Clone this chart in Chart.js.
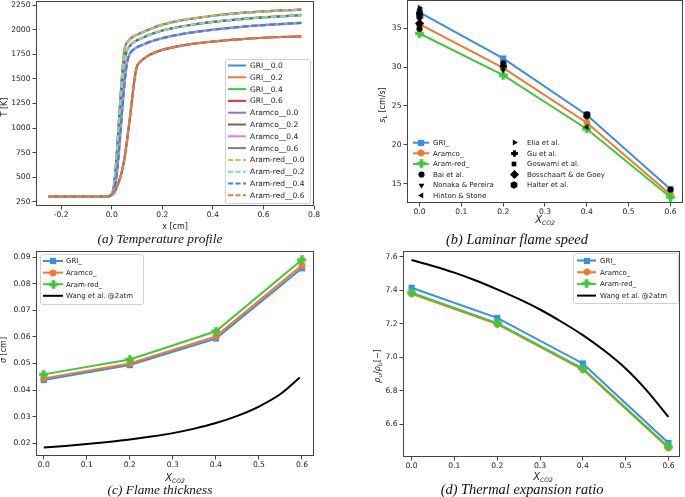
<!DOCTYPE html>
<html>
<head>
<meta charset="utf-8">
<script src="https://cdn.jsdelivr.net/npm/chart.js@4.4.1/dist/chart.umd.min.js"></script>
<style>
  body { margin: 0; background: #fff; }
  #page { position: relative; width: 685px; height: 497px; overflow: hidden; font-family: "DejaVu Sans", sans-serif; color: #222; }
  #page canvas { position: absolute; }
  .lab { position: absolute; white-space: nowrap; font-size: 8px; line-height: 1; transform: translate(-50%, -50%); }
  .lab.rot { transform: translate(-50%, -50%) rotate(-90deg); }
  .xc { font-style: italic; font-size: 10px; }
  .xc sub { font-size: 6.5px; vertical-align: -2px; }
  .lab sub { font-size: 6px; vertical-align: -2px; }
  .cap { position: absolute; white-space: nowrap; font-family: "Liberation Serif", serif; font-style: italic; font-size: 13.4px; line-height: 1; transform: translate(-50%, -50%); color: #111; }
  .cap.r { font-size: 14.4px; }
</style>
</head>
<body>
<div id="page">
  <canvas id="tprof" width="322" height="224" style="left:0;top:0"></canvas>
  <canvas id="speed" width="345" height="222" style="left:340px;top:0"></canvas>
  <canvas id="thick" width="322" height="230" style="left:0;top:245px"></canvas>
  <canvas id="expan" width="345" height="231" style="left:340px;top:245px"></canvas>

  <div class="lab rot" style="left:5px;top:107px">T [K]</div>
  <div class="lab" style="left:175px;top:227px">x [cm]</div>
  <div class="cap" style="left:160px;top:239px">(a) Temperature profile</div>

  <div class="lab rot" style="left:383px;top:105px"><i>s</i><sub>L</sub> [cm/s]</div>
  <div class="lab xc" style="left:545px;top:220px">X<sub>CO2</sub></div>
  <div class="cap r" style="left:517px;top:239px">(b) Laminar flame speed</div>

  <div class="lab rot" style="left:4px;top:350px"><i>σ</i> [cm]</div>
  <div class="lab xc" style="left:175px;top:478px">X<sub>CO2</sub></div>
  <div class="cap" style="left:160px;top:490px">(c) Flame thickness</div>

  <div class="lab rot" style="left:378px;top:366px"><i>ρ</i><sub>u</sub>/<i>ρ</i><sub>b</sub>[−]</div>
  <div class="lab xc" style="left:543px;top:477px">X<sub>CO2</sub></div>
  <div class="cap r" style="left:522px;top:489px">(d) Thermal expansion ratio</div>
</div>

<script>
// ---------- data ----------

var xCO2 = [0.0, 0.2, 0.4, 0.6];

// (a) temperature profile, x in cm
var xPos = [-0.25, -0.1, -0.02, 0.0, 0.01, 0.02, 0.03, 0.04, 0.05, 0.06, 0.07, 0.08, 0.09, 0.1, 0.11, 0.12, 0.15, 0.2, 0.25, 0.3, 0.4, 0.5, 0.6, 0.75];
var T_00 = [300, 300, 305, 330, 450, 760, 1150, 1520, 1800, 1868, 1900, 1922, 1938, 1950, 1962, 1973, 2005, 2052, 2083, 2106, 2142, 2168, 2186, 2205];
var T_02 = [300, 300, 304, 327, 410, 670, 1040, 1400, 1680, 1790, 1830, 1858, 1878, 1893, 1905, 1916, 1950, 1992, 2020, 2043, 2080, 2106, 2125, 2147];
var T_04 = [300, 300, 303, 324, 375, 540, 820, 1150, 1450, 1660, 1750, 1785, 1806, 1822, 1834, 1845, 1876, 1914, 1942, 1965, 2000, 2027, 2047, 2070];
var T_06 = [300, 300, 302, 318, 345, 400, 470, 560, 690, 870, 1070, 1290, 1500, 1630, 1668, 1692, 1745, 1795, 1825, 1848, 1880, 1902, 1918, 1933];
var tLabels = ['GRI__0.0', 'GRI__0.2', 'GRI__0.4', 'GRI__0.6',
               'Aramco__0.0', 'Aramco__0.2', 'Aramco__0.4', 'Aramco__0.6',
               'Aram-red__0.0', 'Aram-red__0.2', 'Aram-red__0.4', 'Aram-red__0.6'];
var tSeries = [T_00, T_02, T_04, T_06, T_00, T_02, T_04, T_06, T_00, T_02, T_04, T_06];
var tXTicks = [-0.2, 0.0, 0.2, 0.4, 0.6, 0.8];
var tYTicks = [250, 500, 750, 1000, 1250, 1500, 1750, 2000, 2250];

// (b) laminar flame speed [cm/s]
var sL_GRI = [37.0, 31.1, 23.85, 14.3];
var sL_Aramco = [35.5, 29.9, 22.85, 13.65];
var sL_AramRed = [34.3, 28.95, 22.05, 13.3];
var bai = [[0.0, 34.9], [0.2, 30.5], [0.4, 23.7], [0.6, 14.3]];
var nonaka = [[0.0, 36.1], [0.2, 29.6]];
var hinton = [[0.0, 35.3], [0.4, 22.3]];
var elia = [[0.0, 37.6]];
var gu = [[0.0, 36.9], [0.2, 30.1]];
var goswami = [[0.0, 37.3]];
var bosschaart = [[0.0, 35.6]];
var halter = [[0.0, 36.5], [0.4, 23.9]];
var sXTicks = [0.0, 0.1, 0.2, 0.3, 0.4, 0.5, 0.6];
var sYTicks = [15, 20, 25, 30, 35];

// (c) flame thickness [cm]
var d_GRI = [0.0438, 0.0494, 0.0594, 0.0858];
var d_Aramco = [0.0444, 0.0500, 0.0602, 0.0869];
var d_AramRed = [0.0459, 0.0515, 0.0621, 0.0890];
var wangX_d = [0.0, 0.05, 0.1, 0.15, 0.2, 0.25, 0.3, 0.35, 0.4, 0.45, 0.5, 0.55, 0.595];
var wang_d = [0.0184, 0.0190, 0.0197, 0.0205, 0.0214, 0.0225, 0.0238, 0.0255, 0.0276, 0.0303, 0.0338, 0.0385, 0.0447];
var dYTicks = [0.02, 0.03, 0.04, 0.05, 0.06, 0.07, 0.08, 0.09];

// (d) thermal expansion ratio
var e_GRI = [7.415, 7.235, 6.963, 6.489];
var e_Aramco = [7.379, 7.198, 6.927, 6.459];
var e_AramRed = [7.385, 7.204, 6.933, 6.465];
var wangX_e = [0.0, 0.05, 0.1, 0.15, 0.2, 0.25, 0.3, 0.35, 0.4, 0.45, 0.5, 0.55, 0.6];
var wang_e = [7.58, 7.545, 7.505, 7.458, 7.405, 7.348, 7.285, 7.212, 7.132, 7.040, 6.933, 6.800, 6.644];
var eYTicks = [6.6, 6.8, 7.0, 7.2, 7.4, 7.6];

// ---------- styling ----------

var cBlue = '#3b8ee2', cOrange = '#f5772d', cGreen = '#3fc83a', cRed = '#e4333b';
var tColors = [cBlue, cOrange, cGreen, cRed, '#9270e0', '#8c5a4c', '#e07ce0', '#7f7f7f', '#b8cc2a', '#62e4c6', '#3a86de', '#f27a32'];
var TICK_FONT = { family: 'DejaVu Sans', size: 7.6 };

// small marker images, used both by the datasets and by the legends
function marker(shape, color, n) {
  var c = document.createElement('canvas');
  c.width = n; c.height = n;
  var g = c.getContext('2d'), m = n / 2;
  g.fillStyle = color;
  g.beginPath();
  if (shape == 'square') {
    var s = n * 0.78;
    g.rect(m - s / 2, m - s / 2, s, s);
  } else if (shape == 'circle') {
    g.arc(m, m, n * 0.44, 0, Math.PI * 2);
  } else if (shape == 'hex') {
    for (var k = 0; k < 6; k++) {
      var a = Math.PI / 6 + k * Math.PI / 3;
      g.lineTo(m + Math.cos(a) * n * 0.48, m + Math.sin(a) * n * 0.48);
    }
  } else if (shape == 'plus') {
    var w = n * 0.2, L = n * 0.48;
    g.rect(m - w, m - L, 2 * w, 2 * L);
    g.rect(m - L, m - w, 2 * L, 2 * w);
  } else if (shape == 'diamond') {
    g.moveTo(m, 0); g.lineTo(n, m); g.lineTo(m, n); g.lineTo(0, m);
  } else {
    // triangles: down / left / right
    var r = n * 0.48, rot = { down: Math.PI / 2, left: Math.PI, right: 0 }[shape];
    for (var j = 0; j < 3; j++) {
      var b = rot + j * 2 * Math.PI / 3;
      g.lineTo(m + Math.cos(b) * r, m + Math.sin(b) * r);
    }
  }
  g.closePath();
  g.fill();
  return c;
}

var mk = {
  gri: marker('square', cBlue, 8), aramco: marker('hex', cOrange, 8), aramred: marker('plus', cGreen, 9),
  bai: marker('circle', '#000', 7), nonaka: marker('down', '#000', 7), hinton: marker('left', '#000', 7),
  elia: marker('right', '#000', 7), gu: marker('plus', '#000', 7), goswami: marker('square', '#000', 6),
  bosschaart: marker('diamond', '#000', 9), halter: marker('hex', '#000', 8)
};

// legends drawn inside the axes, page coordinates
var legends = {
  tprof: { box: [225, 59, 85, 144], font: 7.5, rows: tLabels.map(function (l, i) {
    return { x0: 228, x1: 246, tx: 250, y: 65.5 + i * 11.8, label: l, color: tColors[i], dash: i >= 8 };
  }) },
  speed: { box: null, font: 7, rows: [
    { x0: 413, x1: 429, tx: 433, y: 142.7, label: 'GRI_', color: cBlue, mk: 'gri' },
    { x0: 413, x1: 429, tx: 433, y: 153.3, label: 'Aramco_', color: cOrange, mk: 'aramco' },
    { x0: 413, x1: 429, tx: 433, y: 163.9, label: 'Aram-red_', color: cGreen, mk: 'aramred' },
    { mx: 421, tx: 433, y: 174.5, label: 'Bai et al.', mk: 'bai' },
    { mx: 421, tx: 433, y: 185.1, label: 'Nonaka & Pereira', mk: 'nonaka' },
    { mx: 421, tx: 433, y: 195.7, label: 'Hinton & Stone', mk: 'hinton' },
    { mx: 514, tx: 527, y: 142.7, label: 'Elia et al.', mk: 'elia' },
    { mx: 514, tx: 527, y: 153.3, label: 'Gu et al.', mk: 'gu' },
    { mx: 514, tx: 527, y: 163.9, label: 'Goswami et al.', mk: 'goswami' },
    { mx: 514, tx: 527, y: 174.5, label: 'Bosschaart & de Goey', mk: 'bosschaart' },
    { mx: 514, tx: 527, y: 185.1, label: 'Halter et al.', mk: 'halter' }
  ] },
  thick: { box: [40, 254, 103, 50], font: 7, rows: [
    { x0: 43, x1: 63, tx: 66, y: 261, label: 'GRI_', color: cBlue, mk: 'gri' },
    { x0: 43, x1: 63, tx: 66, y: 272.6, label: 'Aramco_', color: cOrange, mk: 'aramco' },
    { x0: 43, x1: 63, tx: 66, y: 284.2, label: 'Aram-red_', color: cGreen, mk: 'aramred' },
    { x0: 43, x1: 63, tx: 66, y: 295.8, label: 'Wang et al. @2atm', color: '#000' }
  ] },
  expan: { box: [573, 253, 105, 50], font: 7, rows: [
    { x0: 577, x1: 596, tx: 600, y: 260.5, label: 'GRI_', color: cBlue, mk: 'gri' },
    { x0: 577, x1: 596, tx: 600, y: 272.2, label: 'Aramco_', color: cOrange, mk: 'aramco' },
    { x0: 577, x1: 596, tx: 600, y: 283.9, label: 'Aram-red_', color: cGreen, mk: 'aramred' },
    { x0: 577, x1: 596, tx: 600, y: 295.6, label: 'Wang et al. @2atm', color: '#000' }
  ] }
};

// full box around the axes + legend inside
Chart.register({
  id: 'mplFrame',
  afterDatasetsDraw: function (chart) {
    var a = chart.chartArea, ctx = chart.ctx;
    ctx.save();
    ctx.strokeStyle = '#444';
    ctx.lineWidth = 1;
    ctx.strokeRect(Math.round(a.left) + 0.5, Math.round(a.top) + 0.5,
      Math.round(a.right - a.left) - 1, Math.round(a.bottom - a.top) - 1);
    ctx.restore();
  },
  afterDraw: function (chart) {
    var lg = legends[chart.canvas.id];
    if (!lg) return;
    var ctx = chart.ctx, ox = chart.canvas.offsetLeft, oy = chart.canvas.offsetTop;
    ctx.save();
    ctx.translate(-ox, -oy);
    if (lg.box) {
      var b = lg.box;
      ctx.beginPath();
      ctx.roundRect(b[0] + 0.5, b[1] + 0.5, b[2], b[3], 2);
      ctx.fillStyle = 'rgba(255,255,255,0.85)';
      ctx.fill();
      ctx.strokeStyle = '#d0d0d0';
      ctx.lineWidth = 1;
      ctx.stroke();
    }
    ctx.font = lg.font + 'px "DejaVu Sans"';
    ctx.textBaseline = 'middle';
    lg.rows.forEach(function (r) {
      if (r.x0 != null) {
        ctx.beginPath();
        ctx.setLineDash(r.dash ? [5, 2.5] : []);
        ctx.strokeStyle = r.color;
        ctx.lineWidth = 2;
        ctx.moveTo(r.x0, r.y);
        ctx.lineTo(r.x1, r.y);
        ctx.stroke();
        ctx.setLineDash([]);
      }
      if (r.mk) {
        var im = mk[r.mk], cx = r.mx != null ? r.mx : (r.x0 + r.x1) / 2;
        ctx.drawImage(im, Math.round(cx - im.width / 2), Math.round(r.y - im.height / 2));
      }
      ctx.fillStyle = '#222';
      ctx.fillText(r.label, r.tx, r.y + 0.5);
    });
    ctx.restore();
  }
});

function axis(min, max, ticks, dec, size, horiz) {
  return {
    type: 'linear', min: min, max: max,
    afterFit: function (s) {
      if (horiz) s.height = size; else s.width = size;
      // no extra room for labels at the ends, the boxes are placed by hand
      s.paddingTop = s.paddingBottom = s.paddingLeft = s.paddingRight = 0;
    },
    afterBuildTicks: function (s) { s.ticks = ticks.map(function (v) { return { value: v }; }); },
    grid: { display: true, drawOnChartArea: false, drawTicks: true, tickLength: 3.5, color: '#444', lineWidth: 1 },
    border: { display: false },
    ticks: { font: TICK_FONT, color: '#222', padding: horiz ? 1 : 2, maxRotation: 0, autoSkip: false,
      callback: function (v) { return Number(v).toFixed(dec); } }
  };
}

function xy(xs, ys) { return xs.map(function (x, i) { return { x: x, y: ys[i] }; }); }
function pairs(p) { return p.map(function (q) { return { x: q[0], y: q[1] }; }); }

function baseOptions(pad, scales) {
  return {
    responsive: false, animation: false, events: [],
    layout: { padding: pad, autoPadding: false },
    plugins: { legend: { display: false }, tooltip: { enabled: false } },
    scales: scales
  };
}

function model(data, color, m, i) {
  return { data: xy(xCO2, data), borderColor: color, backgroundColor: color, borderWidth: 2,
    pointStyle: m, pointRadius: 4, tension: 0, order: -i };
}
function wang(xs, ys, i) {
  return { data: xy(xs, ys), borderColor: '#000', borderWidth: 2, pointRadius: 0,
    cubicInterpolationMode: 'monotone', order: -i };
}
function expt(p, m, i) {
  return { data: pairs(p), showLine: false, pointStyle: m, pointRadius: 4, order: -i };
}

// (a) temperature profile
new Chart(document.getElementById('tprof'), {
  type: 'line',
  data: { datasets: tSeries.map(function (s, i) {
    return { label: tLabels[i], data: xy(xPos, s), borderColor: tColors[i], borderWidth: 2.2,
      borderDash: i >= 8 ? [6, 3] : [], pointRadius: 0, cubicInterpolationMode: 'monotone', order: -i };
  }) },
  options: baseOptions({ top: 1, right: 8, left: 0, bottom: 0 }, {
    x: axis(-0.3, 0.8, tXTicks, 1, 18, true),
    y: axis(207, 2292, tYTicks, 0, 36, false)
  })
});

// (b) laminar flame speed
new Chart(document.getElementById('speed'), {
  type: 'line',
  data: { datasets: [
    model(sL_GRI, cBlue, mk.gri, 0),
    model(sL_Aramco, cOrange, mk.aramco, 1),
    model(sL_AramRed, cGreen, mk.aramred, 2),
    expt(bai, mk.bai, 3), expt(nonaka, mk.nonaka, 4), expt(hinton, mk.hinton, 5),
    expt(elia, mk.elia, 6), expt(gu, mk.gu, 7), expt(goswami, mk.goswami, 8),
    expt(bosschaart, mk.bosschaart, 9), expt(halter, mk.halter, 10)
  ] },
  options: baseOptions({ top: 0, right: 2, left: 0, bottom: 0 }, {
    x: axis(-0.03, 0.63, sXTicks, 1, 19, true),
    y: axis(12.55, 38.6, sYTicks, 0, 67, false)
  })
});

// (c) flame thickness
new Chart(document.getElementById('thick'), {
  type: 'line',
  data: { datasets: [
    model(d_GRI, cBlue, mk.gri, 0),
    model(d_Aramco, cOrange, mk.aramco, 1),
    model(d_AramRed, cGreen, mk.aramred, 2),
    wang(wangX_d, wang_d, 3)
  ] },
  options: baseOptions({ top: 6, right: 8, left: 0, bottom: 0 }, {
    x: axis(-0.018, 0.628, sXTicks, 1, 19, true),
    y: axis(0.0152, 0.0923, dYTicks, 2, 36, false)
  })
});

// (d) thermal expansion ratio
new Chart(document.getElementById('expan'), {
  type: 'line',
  data: { datasets: [
    model(e_GRI, cBlue, mk.gri, 0),
    model(e_Aramco, cOrange, mk.aramco, 1),
    model(e_AramRed, cGreen, mk.aramred, 2),
    wang(wangX_e, wang_e, 3)
  ] },
  options: baseOptions({ top: 6, right: 5, left: 0, bottom: 0 }, {
    x: axis(-0.02, 0.627, sXTicks, 1, 19, true),
    y: axis(6.405, 7.634, eYTicks, 1, 63, false)
  })
});
</script>
</body>
</html>
